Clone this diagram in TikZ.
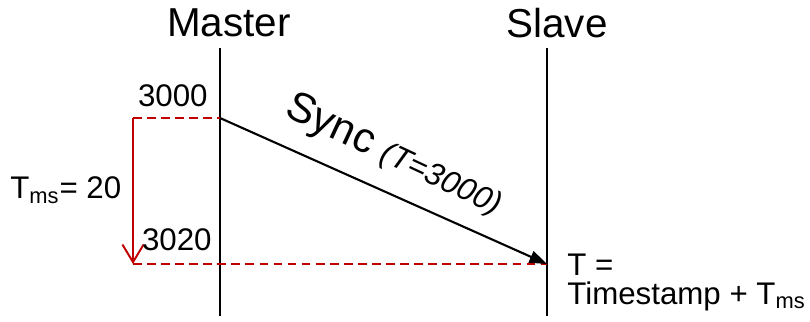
\documentclass[tikz,border=0pt]{standalone}
\usepackage{fontspec}
\setmainfont{Liberation Sans}
\usepackage{tikz}
\usetikzlibrary{arrows.meta, positioning, calc}
\definecolor{syncred}{RGB}{192, 0, 0}

\begin{document}
\begin{tikzpicture}[
    x=0.02cm, y=-0.02cm,
    lifeline/.style={draw=black, line width=0.8pt},
    title/.style={font=\fontsize{23}{26}\selectfont, inner sep=0pt},
    stamp/.style={font=\fontsize{17.8}{20}\selectfont, inner sep=0pt},
    msg/.style={-{Triangle[length=10pt, width=7pt]}, line width=1.2pt, black},
    guide/.style={dash pattern=on 5pt off 3pt, syncred, line width=0.9pt},
    delay/.style={-{Straight Barb[length=10pt, width=12pt]}, syncred, line width=1.1pt}
]
\useasboundingbox (0,0) rectangle (810,321);

% Lifelines
\node[title] (master) at (229,23) {Master};
\node[title] (slave) at (557,23) {Slave};
\coordinate (mtop) at (220,48);
\coordinate (mbot) at (220,316);
\coordinate (stop) at (547,48);
\coordinate (sbot) at (547,316);
\draw[lifeline] (mtop) -- (mbot);
\draw[lifeline] (stop) -- (sbot);

% Time points
\coordinate (send) at (220,118);
\coordinate (recv) at (547,264);
\coordinate (left0) at (133,118);
\coordinate (left1) at (133,264);

% Dashed guides and delay arrow
\draw[guide] (left0) -- (send);
\draw[guide] (left1) -- (recv);
\draw[delay] (left0) -- (left1);

% Sync message
\draw[msg] (send) -- (recv);
\node[rotate=-25, inner sep=0pt] (synclabel) at (394,156)
    {\fontsize{24}{27}\selectfont Sync {\fontsize{18}{21}\selectfont\itshape (T=3000)}};

% Labels
\node[stamp, anchor=south east] (t0) at (208,107) {3000};
\node[stamp, anchor=south east] (t1) at (212,251) {3020};
\node[stamp, anchor=west] (tms) at (10,190) {T\textsubscript{ms}= 20};
\node[stamp, anchor=south west] (teq) at (567,276) {T =};
\node[stamp, anchor=south west] (tstamp) at (567,311) {Timestamp + T\textsubscript{ms}};
\end{tikzpicture}
\end{document}
